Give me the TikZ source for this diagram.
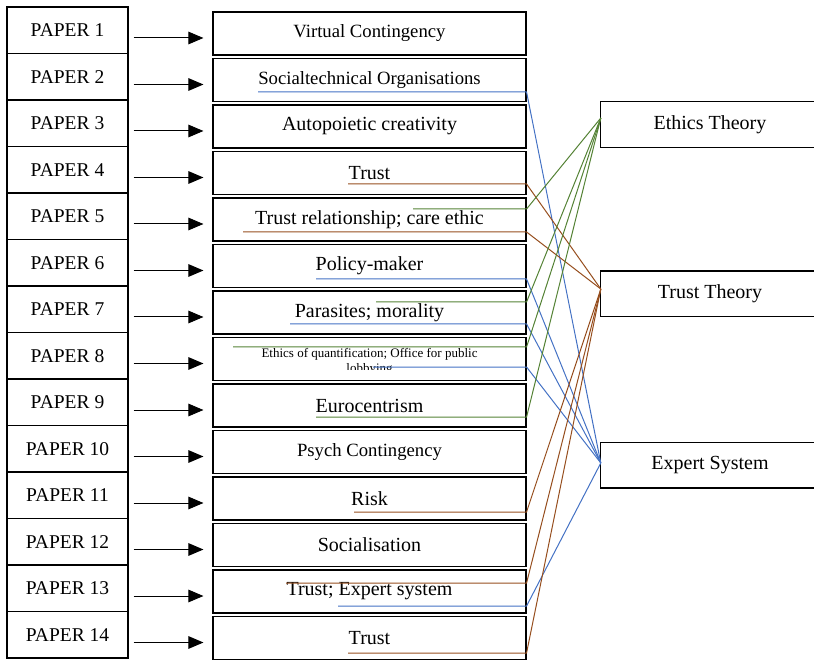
\documentclass[tikz,border=0pt]{standalone}
\usepackage{fontspec}
\setmainfont{Liberation Serif}
\usetikzlibrary{arrows.meta}
\definecolor{linkblue}{RGB}{68,114,196}
\definecolor{linkgreen}{RGB}{84,130,53}
\definecolor{linkbrown}{RGB}{150,78,30}

\begin{document}
\begin{tikzpicture}[x=1pt,y=-1pt]
\tikzset{
  papernode/.style={rectangle,draw=black,line width=1.1pt,minimum width=121pt,minimum height=46.5pt,inner sep=0pt,font=\fontsize{19.5}{22}\selectfont},
  topicnode/.style={rectangle,draw=black,line width=1.1pt,minimum width=313pt,minimum height=43pt,inner sep=0pt,font=\fontsize{20}{22}\selectfont},
  smalltopic/.style={topicnode,font=\fontsize{18.7}{22}\selectfont},
  theorynode/.style={rectangle,minimum width=218pt,minimum height=45.5pt,inner sep=0pt,font=\fontsize{20}{22}\selectfont},
  theoryline/.style={draw=black,line width=1.1pt},
  feedarrow/.style={draw=black,line width=1pt,-{Triangle[length=15pt,width=12.5pt]},shorten <=5pt,shorten >=9pt},
  linkedge/.style={line width=1pt,line join=round},
  ethicslink/.style={linkedge,draw=linkgreen},
  trustlink/.style={linkedge,draw=linkbrown},
  expertlink/.style={linkedge,draw=linkblue}
}
\useasboundingbox (0,0) rectangle (814,660);
% paper column
\node[papernode] (p_1) at (67.5,30.25) {PAPER 1};
\node[papernode] (p_2) at (67.5,76.75) {PAPER 2};
\node[papernode] (p_3) at (67.5,123.25) {PAPER 3};
\node[papernode] (p_4) at (67.5,169.75) {PAPER 4};
\node[papernode] (p_5) at (67.5,216.25) {PAPER 5};
\node[papernode] (p_6) at (67.5,262.75) {PAPER 6};
\node[papernode] (p_7) at (67.5,309.25) {PAPER 7};
\node[papernode] (p_8) at (67.5,355.75) {PAPER 8};
\node[papernode] (p_9) at (67.5,402.25) {PAPER 9};
\node[papernode] (p_10) at (67.5,448.75) {PAPER 10};
\node[papernode] (p_11) at (67.5,495.25) {PAPER 11};
\node[papernode] (p_12) at (67.5,541.75) {PAPER 12};
\node[papernode] (p_13) at (67.5,588.25) {PAPER 13};
\node[papernode] (p_14) at (67.5,634.75) {PAPER 14};
% topic column
\node[smalltopic] (m_1) at (369.5,33.5) {Virtual Contingency};
\node[smalltopic] (m_2) at (369.5,80) {Socialtechnical Organisations};
\node[topicnode] (m_3) at (369.5,126.5) {Autopoietic creativity};
\node[topicnode] (m_4) at (369.5,173) {Trust};
\node[topicnode] (m_5) at (369.5,219.5) {Trust relationship; care ethic};
\node[topicnode] (m_6) at (369.5,266) {Policy-maker};
\node[topicnode] (m_7) at (369.5,312.5) {Parasites; morality};
\node[topicnode] (m_8) at (369.5,359) {};
\begin{scope}
  \clip (m_8.north west) rectangle ([yshift=11.5pt]m_8.south east);
  \node[align=center,inner sep=0pt,font=\fontsize{13}{15}\selectfont] (m_8_text) at (369.5,362) {Ethics of quantification; Office for public\\lobbying};
\end{scope}
\node[topicnode] (m_9) at (369.5,405.5) {Eurocentrism};
\node[smalltopic] (m_10) at (369.5,452) {Psych Contingency};
\node[topicnode] (m_11) at (369.5,498.5) {Risk};
\node[topicnode] (m_12) at (369.5,545) {Socialisation};
\node[topicnode] (m_13) at (369.5,591.5) {Trust; Expert system};
\node[topicnode] (m_14) at (369.5,638) {Trust};
% theory column, open to the right edge
\node[theorynode] (t_ethics) at (710,124.5) {Ethics Theory};
\node[theorynode] (t_trust) at (710,294) {Trust Theory};
\node[theorynode] (t_expert) at (710,465) {Expert System};
\draw[theoryline] ([xshift=20pt]t_ethics.north east) -| (t_ethics.south west) -- ([xshift=20pt]t_ethics.south east);
\draw[theoryline] ([xshift=20pt]t_trust.north east) -| (t_trust.south west) -- ([xshift=20pt]t_trust.south east);
\draw[theoryline] ([xshift=20pt]t_expert.north east) -| (t_expert.south west) -- ([xshift=20pt]t_expert.south east);
\coordinate (in_ethics) at ([yshift=6.5pt]t_ethics.west);
\coordinate (in_trust) at ([yshift=5pt]t_trust.west);
\coordinate (in_expert) at ([yshift=2pt]t_expert.west);
% paper -> topic
\draw[feedarrow] ([yshift=-7.75pt]p_1.east) -- ([yshift=-4.5pt]m_1.west);
\draw[feedarrow] ([yshift=-7.75pt]p_2.east) -- ([yshift=-4.5pt]m_2.west);
\draw[feedarrow] ([yshift=-7.75pt]p_3.east) -- ([yshift=-4.5pt]m_3.west);
\draw[feedarrow] ([yshift=-7.75pt]p_4.east) -- ([yshift=-4.5pt]m_4.west);
\draw[feedarrow] ([yshift=-7.75pt]p_5.east) -- ([yshift=-4.5pt]m_5.west);
\draw[feedarrow] ([yshift=-7.75pt]p_6.east) -- ([yshift=-4.5pt]m_6.west);
\draw[feedarrow] ([yshift=-7.75pt]p_7.east) -- ([yshift=-4.5pt]m_7.west);
\draw[feedarrow] ([yshift=-7.75pt]p_8.east) -- ([yshift=-4.5pt]m_8.west);
\draw[feedarrow] ([yshift=-7.75pt]p_9.east) -- ([yshift=-4.5pt]m_9.west);
\draw[feedarrow] ([yshift=-7.75pt]p_10.east) -- ([yshift=-4.5pt]m_10.west);
\draw[feedarrow] ([yshift=-7.75pt]p_11.east) -- ([yshift=-4.5pt]m_11.west);
\draw[feedarrow] ([yshift=-7.75pt]p_12.east) -- ([yshift=-4.5pt]m_12.west);
\draw[feedarrow] ([yshift=-7.75pt]p_13.east) -- ([yshift=-4.5pt]m_13.west);
\draw[feedarrow] ([yshift=-7.75pt]p_14.east) -- ([yshift=-4.5pt]m_14.west);
% topic -> theory links
\coordinate (u_2) at (258,92);
\coordinate (u_4) at (348,184);
\coordinate (u_5a) at (413,209);
\coordinate (u_5b) at (243,232);
\coordinate (u_6) at (316,279);
\coordinate (u_7a) at (376,302);
\coordinate (u_7b) at (290,324);
\coordinate (u_8a) at (233,347);
\coordinate (u_8b) at (373,367);
\coordinate (u_9) at (316,417);
\coordinate (u_11) at (354,512);
\coordinate (u_13a) at (286,583);
\coordinate (u_13b) at (338,606);
\coordinate (u_14) at (348,653);
\draw[expertlink] (u_2) -- (u_2 -| m_2.east) -- (in_expert);
\draw[trustlink] (u_4) -- (u_4 -| m_4.east) -- (in_trust);
\draw[ethicslink] (u_5a) -- (u_5a -| m_5.east) -- (in_ethics);
\draw[trustlink] (u_5b) -- (u_5b -| m_5.east) -- (in_trust);
\draw[expertlink] (u_6) -- (u_6 -| m_6.east) -- (in_expert);
\draw[ethicslink] (u_7a) -- (u_7a -| m_7.east) -- (in_ethics);
\draw[expertlink] (u_7b) -- (u_7b -| m_7.east) -- (in_expert);
\draw[ethicslink] (u_8a) -- (u_8a -| m_8.east) -- (in_ethics);
\draw[expertlink] (u_8b) -- (u_8b -| m_8.east) -- (in_expert);
\draw[ethicslink] (u_9) -- (u_9 -| m_9.east) -- (in_ethics);
\draw[trustlink] (u_11) -- (u_11 -| m_11.east) -- (in_trust);
\draw[trustlink] (u_13a) -- (u_13a -| m_13.east) -- (in_trust);
\draw[expertlink] (u_13b) -- (u_13b -| m_13.east) -- (in_expert);
\draw[trustlink] (u_14) -- (u_14 -| m_14.east) -- (in_trust);
\end{tikzpicture}
\end{document}
